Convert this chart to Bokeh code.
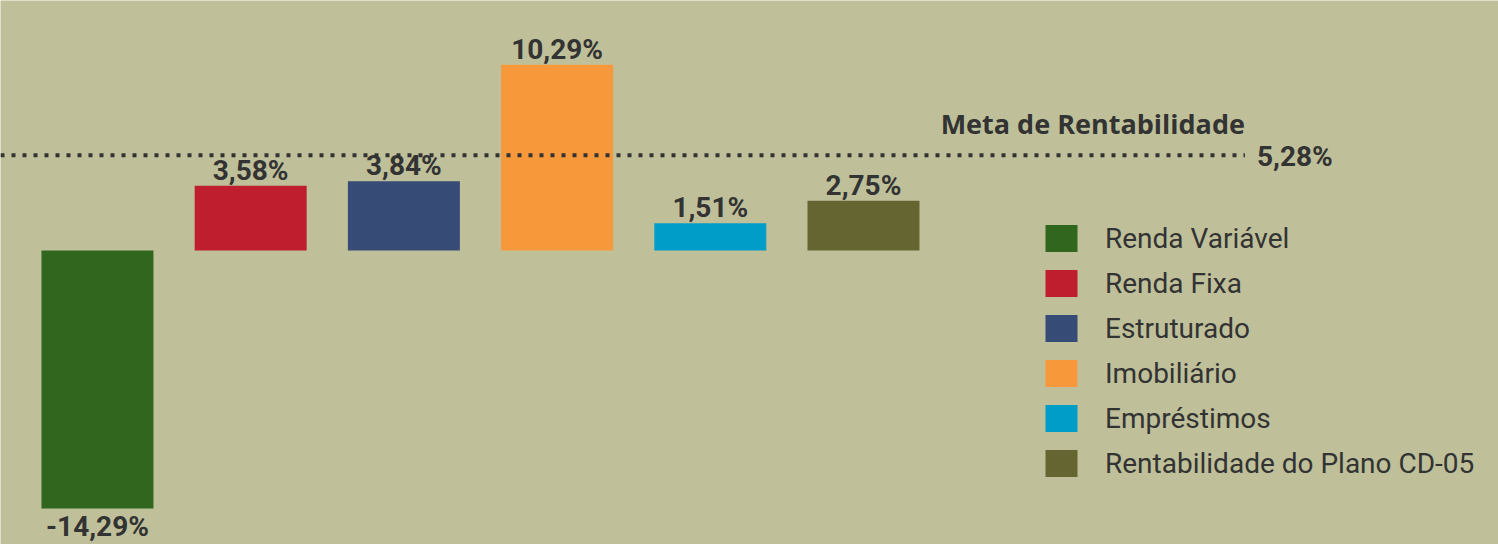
from bokeh.plotting import figure
from bokeh.models import Range1d, Legend, LegendItem, ColumnDataSource
from bokeh.core.properties import value
from bokeh.embed import file_html
from bokeh.resources import INLINE

# ---- data ----
categories = ["Renda Variável", "Renda Fixa", "Estruturado", "Imobiliário",
              "Empréstimos", "Rentabilidade do Plano CD-05"]
values = [-14.29, 3.58, 3.84, 10.29, 1.51, 2.75]
meta_label = "Meta de Rentabilidade"
meta_value = 5.28

# ---- styles ----
colors = ["#31661e", "#be1e2d", "#374b77", "#f7983a", "#009dc9", "#646531"]
BG = "#bfc09a"
TXT = "#333333"
NUM_FONT = "Roboto"
LEG_FONT = "Roboto"

def fmt(v):
    return f"{v:.2f}".replace(".", ",") + "%"

X0, X1 = -0.633, 9.145
p = figure(width=1498, height=544, x_range=Range1d(X0, X1), y_range=Range1d(-16.29, 13.85),
           output_backend="svg", toolbar_location=None, min_border=0,
           background_fill_color=BG, border_fill_color=BG, outline_line_color=None)
p.axis.visible = False
p.grid.visible = False

xs = list(range(len(categories)))
items = []
for i, (c, v, col) in enumerate(zip(categories, values, colors)):
    r = p.vbar(x=[xs[i]], top=[v], bottom=[0], width=0.731, fill_color=col, line_color=None)
    items.append(LegendItem(label=c, renderers=[r]))

pos = ColumnDataSource(dict(x=[x for x, v in zip(xs, values) if v >= 0],
                            y=[v for v in values if v >= 0],
                            t=[fmt(v) for v in values if v >= 0]))
neg = ColumnDataSource(dict(x=[x for x, v in zip(xs, values) if v < 0],
                            y=[v for v in values if v < 0],
                            t=[fmt(v) for v in values if v < 0]))
p.text(x="x", y="y", text="t", source=pos, text_align="center", text_baseline="bottom",
       y_offset=1, text_font=value(NUM_FONT), text_font_style="bold",
       text_font_size="28px", text_color=TXT)
p.text(x="x", y="y", text="t", source=neg, text_align="center", text_baseline="top",
       y_offset=2, text_font=value(NUM_FONT), text_font_style="bold",
       text_font_size="28px", text_color=TXT)

# meta line
LINE_END = 7.49
p.segment(x0=[X0], y0=[meta_value], x1=[LINE_END], y1=[meta_value], line_color=TXT,
          line_width=4, line_dash="4 7")
p.text(x=[LINE_END], y=[meta_value], text=[fmt(meta_value)], text_align="left",
       text_baseline="middle", x_offset=12, y_offset=1, text_font=value(NUM_FONT),
       text_font_style="bold", text_font_size="28px", text_color=TXT)
p.text(x=[LINE_END], y=[meta_value], text=[meta_label], text_align="right",
       text_baseline="bottom", y_offset=-13, text_font=value("Open Sans"),
       text_font_style="bold", text_font_size="27px", text_color=TXT)

legend = Legend(items=items, location=(1041, 64), orientation="vertical",
                glyph_width=40, glyph_height=34, label_standoff=24,
                label_text_font=LEG_FONT, label_text_font_size="28px",
                label_text_color=TXT, label_height=27, spacing=11,
                padding=0, margin=0, border_line_color=None, background_fill_alpha=0)
p.add_layout(legend, "center")

open("out.html", "w").write(file_html(p, INLINE))
